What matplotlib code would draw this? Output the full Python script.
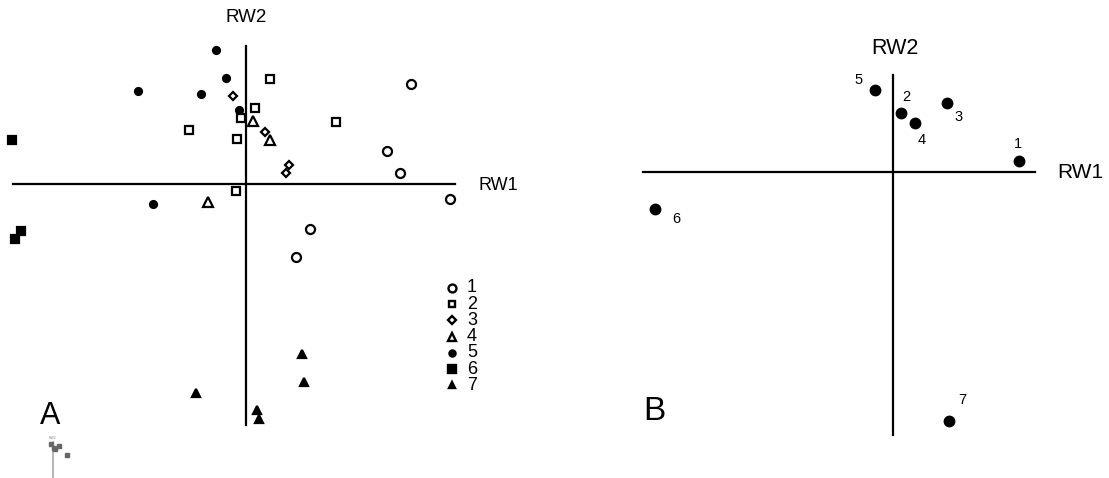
import matplotlib
matplotlib.use('Agg')
import matplotlib.pyplot as plt

plt.rcParams['font.family'] = ['Liberation Sans', 'DejaVu Sans']

# panel A: individual scores on RW1/RW2, grouped 1..7
groups = ['1', '2', '3', '4', '5', '6', '7']
a_x = {
    '1': [1.65, 1.41, 1.54, 2.04, 0.64, 0.50],
    '2': [0.24, 0.09, -0.05, -0.57, -0.09, 0.90, -0.10],
    '3': [-0.13, 0.19, 0.43, 0.40],
    '4': [0.07, 0.24, -0.38],
    '5': [-0.30, -0.20, -1.08, -0.45, -0.07, -0.93],
    '6': [-2.34, -2.25, -2.31],
    '7': [0.56, 0.58, -0.50, 0.11, 0.13],
}
a_y = {
    '1': [1.00, 0.33, 0.11, -0.15, -0.45, -0.73],
    '2': [1.05, 0.76, 0.66, 0.54, 0.45, 0.62, -0.07],
    '3': [0.88, 0.52, 0.19, 0.11],
    '4': [0.63, 0.44, -0.18],
    '5': [1.34, 1.06, 0.93, 0.90, 0.74, -0.20],
    '6': [0.44, -0.47, -0.55],
    '7': [-1.70, -1.98, -2.09, -2.26, -2.35],
}
a_marker = {'1': 'o', '2': 's', '3': 'D', '4': '^', '5': 'o', '6': 's', '7': '^'}
a_filled = {'1': False, '2': False, '3': False, '4': False, '5': True, '6': True, '7': True}
a_size = {'1': 6.5, '2': 5.5, '3': 4.5, '4': 6.5, '5': 5, '6': 6, '7': 5.5}

# panel B: group means
b_labels = ['1', '2', '3', '4', '5', '6', '7']
b_x = [1.26, 0.08, 0.54, 0.22, -0.18, -2.38, 0.56]
b_y = [0.11, 0.59, 0.69, 0.49, 0.82, -0.37, -2.49]

fig = plt.figure(figsize=(11.09, 4.78), dpi=100)

# ---- panel A ----
ax = fig.add_axes([0, 0, 554.5 / 1109, 1])
ax.set_xlim(-2.46, 3.085)
ax.set_ylim(-2.94, 1.84)
ax.axis('off')
ax.plot([-2.33, 2.09], [0, 0], color='black', lw=1.6)
ax.plot([0, 0], [-2.41, 1.38], color='black', lw=1.6)
for g in groups:
    face = 'black' if a_filled[g] else 'white'
    ax.plot(a_x[g], a_y[g], linestyle='none', marker=a_marker[g], ms=a_size[g],
            mfc=face, mec='black', mew=1.6)
ax.text(0, 1.67, 'RW2', ha='center', va='center', fontsize=13.5)
ax.text(2.33, -0.01, 'RW1', ha='left', va='center', fontsize=13)
ax.text(-2.06, -2.32, 'A', ha='left', va='center', fontsize=22)

# legend as a column of markers and numbers
leg_y0 = -1.04
for i, g in enumerate(groups):
    yy = leg_y0 - i * 0.162
    face = 'black' if a_filled[g] else 'white'
    ax.plot([2.06], [yy], linestyle='none', marker=a_marker[g], ms=a_size[g] * 0.88,
            mfc=face, mec='black', mew=1.7)
    ax.text(2.21, yy, g, ha='left', va='center', fontsize=13)

# tiny stray thumbnail bottom-left
ins = fig.add_axes([40 / 1109, 0, 40 / 1109, 42 / 478])
ins.axis('off')
ins.set_xlim(-1.2, 2.5)
ins.set_ylim(-1.5, 1.4)
ins.plot([0, 0], [-1.5, 1.0], color='#aaaaaa', lw=1.2)
ins.plot(b_x[:5], b_y[:5], linestyle='none', marker='s', ms=2.2, color='#666666')
ins.text(0, 1.2, 'RW2', fontsize=2.5, ha='center', color='#888888')

# ---- panel B ----
bx = fig.add_axes([554.5 / 1109, 0, 554.5 / 1109, 1])
bx.set_xlim(-3.385, 2.16)
bx.set_ylim(-3.06, 1.72)
bx.axis('off')
bx.plot([-2.50, 1.42], [0, 0], color='black', lw=1.6)
bx.plot([0, 0], [-2.63, 0.97], color='black', lw=1.6)
bx.plot(b_x, b_y, linestyle='none', marker='o', ms=7.5, color='black')
b_off = [(-0.01, 0.17), (0.05, 0.16), (0.12, -0.14), (0.07, -0.17),
         (-0.16, 0.10), (0.21, -0.10), (0.13, 0.21)]
for lab, x, y, (dx, dy) in zip(b_labels, b_x, b_y, b_off):
    bx.text(x + dx, y + dy, lab, ha='center', va='center', fontsize=10.5)
bx.text(0.02, 1.23, 'RW2', ha='center', va='center', fontsize=15.5)
bx.text(1.64, 0, 'RW1', ha='left', va='center', fontsize=15)
bx.text(-2.50, -2.39, 'B', ha='left', va='center', fontsize=24)

fig.savefig('out.png', dpi=100)
